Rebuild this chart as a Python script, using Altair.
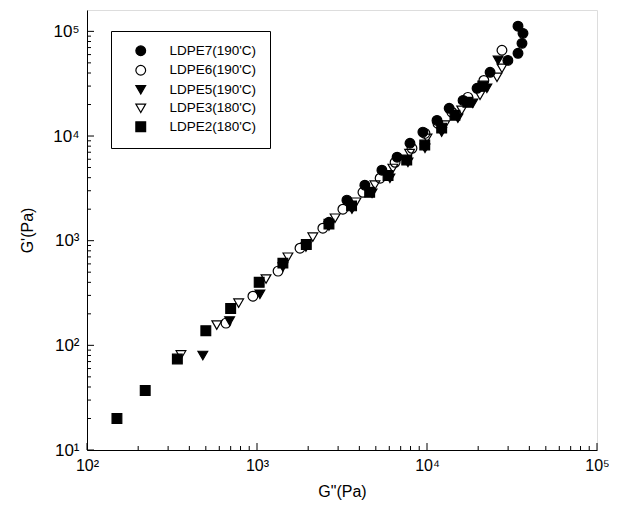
import altair as alt
import pandas as pd

series_order = ["LDPE7(190'C)", "LDPE6(190'C)", "LDPE5(190'C)", "LDPE3(180'C)", "LDPE2(180'C)"]
shapes = ["circle", "circle", "triangle-down", "triangle-down", "square"]
fills = ["black", "transparent", "black", "transparent", "black"]
strokes = ["black", "black", "black", "black", "black"]

# G'' (x) and G' (y) in Pa
ldpe7_x = [2650, 3380, 4310, 5430, 6670, 7940, 9460, 11450, 13500, 16300, 19700, 23500, 29900, 34300, 36200, 36700, 34300]
ldpe7_y = [1500, 2440, 3390, 4710, 6270, 8530, 10900, 14100, 18400, 21900, 28600, 40600, 52800, 61700, 76800, 95700, 112000]

ldpe6_x = [657, 946, 1330, 1790, 2440, 3200, 4200, 5300, 6490, 8160, 9730, 11600, 14000, 17400, 21600, 27600]
ldpe6_y = [163, 295, 512, 847, 1315, 2000, 2900, 3950, 5610, 7640, 10600, 13200, 16900, 23400, 34000, 66000]

ldpe5_x = [480, 690, 1040, 1420, 1940, 2650, 3620, 4750, 6050, 7730, 9730, 12200, 15200, 18600, 22500, 26200]
ldpe5_y = [80, 171, 308, 560, 870, 1380, 2000, 2840, 3950, 5600, 7640, 10900, 14800, 20500, 28600, 52800]

ldpe3_x = [357, 580, 780, 1130, 1520, 2130, 2880, 3820, 4940, 6300, 7900, 10000, 12700, 16000, 20500, 25800, 27600]
ldpe3_y = [81, 156, 253, 430, 695, 1080, 1640, 2330, 3390, 4900, 6800, 9500, 12700, 17600, 24500, 36400, 44400]

ldpe2_x = [150, 220, 340, 500, 700, 1030, 1420, 1950, 2650, 3600, 4600, 5900, 7600, 9700, 12200, 14600, 17400, 21300]
ldpe2_y = [20, 37, 74, 138, 225, 400, 610, 920, 1440, 2150, 2900, 4200, 5900, 8200, 11900, 15800, 21000, 30000]

x_major = [100, 1000, 10000, 100000]
y_major = [10, 100, 1000, 10000, 100000]
minor_mult = [2, 3, 4, 5, 6, 7, 8, 9]

rows = []
for name, xs, ys in [
    (series_order[4], ldpe2_x, ldpe2_y),
    (series_order[3], ldpe3_x, ldpe3_y),
    (series_order[2], ldpe5_x, ldpe5_y),
    (series_order[1], ldpe6_x, ldpe6_y),
    (series_order[0], ldpe7_x, ldpe7_y),
]:
    for a, b in zip(xs, ys):
        rows.append({"series": name, "Gpp": a, "Gp": b})
df = pd.DataFrame(rows)

x_minor = [d * m for d in x_major[:-1] for m in minor_mult]
y_minor = [d * m for d in y_major[:-1] for m in minor_mult]

W, H = 510, 440
font = "Liberation Sans"
xscale = alt.Scale(type="log", domain=[100, 100000], nice=False)
yscale = alt.Scale(type="log", domain=[10, 160000], nice=False)
sup = "'10' + ['\u2070','\u00b9','\u00b2','\u00b3','\u2074','\u2075'][round(log(datum.value)/LN10)]"

xaxis = alt.Axis(values=x_major, ticks=False, grid=False, labelExpr=sup, labelFontSize=16,
                 labelFont=font, labelColor="black", labelPadding=7, labelFlush=False,
                 labelOverlap=False, title='G"(Pa)',
                 titleFont=font, titleFontSize=16, titleFontWeight="normal", titleColor="black",
                 titlePadding=10, domainColor="black")
yaxis = alt.Axis(values=y_major, ticks=False, grid=False, labelExpr=sup, labelFontSize=17,
                 labelFont=font, labelColor="black", labelPadding=8, labelFlush=False,
                 labelOverlap=False, title="G'(Pa)",
                 titleFont=font, titleFontSize=16, titleFontWeight="normal", titleColor="black",
                 titlePadding=17, domainColor="black")

legend = alt.Legend(title=None, orient="none", legendX=24, legendY=21, strokeColor="black",
                    padding=13, labelFont=font, labelFontSize=13.5, labelColor="black",
                    symbolSize=95, symbolStrokeWidth=1.2,
                    rowPadding=3.5, symbolOffset=10, labelOffset=22, fillColor="white")

points = alt.Chart(df).mark_point(opacity=1, strokeWidth=1.2, size=95).encode(
    x=alt.X("Gpp:Q", scale=xscale, axis=xaxis),
    y=alt.Y("Gp:Q", scale=yscale, axis=yaxis),
    shape=alt.Shape("series:N", scale=alt.Scale(domain=series_order, range=shapes), legend=legend),
    fill=alt.Fill("series:N", scale=alt.Scale(domain=series_order, range=fills), legend=legend),
    stroke=alt.Stroke("series:N", scale=alt.Scale(domain=series_order, range=strokes), legend=legend),
)

yt_major = alt.Chart(pd.DataFrame({"v": y_major})).mark_rule(color="black", strokeWidth=1).encode(
    y=alt.Y("v:Q", scale=yscale, axis=yaxis), x=alt.value(0), x2=alt.value(7))
yt_minor = alt.Chart(pd.DataFrame({"v": y_minor})).mark_rule(color="black", strokeWidth=1).encode(
    y=alt.Y("v:Q", scale=yscale, axis=yaxis), x=alt.value(0), x2=alt.value(4))
xt_major = alt.Chart(pd.DataFrame({"v": x_major})).mark_rule(color="black", strokeWidth=1).encode(
    x=alt.X("v:Q", scale=xscale, axis=xaxis), y=alt.value(H), y2=alt.value(H - 7))
xt_minor = alt.Chart(pd.DataFrame({"v": x_minor})).mark_rule(color="black", strokeWidth=1).encode(
    x=alt.X("v:Q", scale=xscale, axis=xaxis), y=alt.value(H), y2=alt.value(H - 4))

chart = alt.layer(yt_major, yt_minor, xt_major, xt_minor, points).properties(
    width=W, height=H,
    autosize=alt.AutoSizeParams(type="none"),
    padding={"left": 79, "top": 2, "right": 12, "bottom": 50},
).configure_view(stroke="black", strokeWidth=1).configure(background="white")

chart.save("out.html", embed_options={"renderer": "svg", "actions": False})
